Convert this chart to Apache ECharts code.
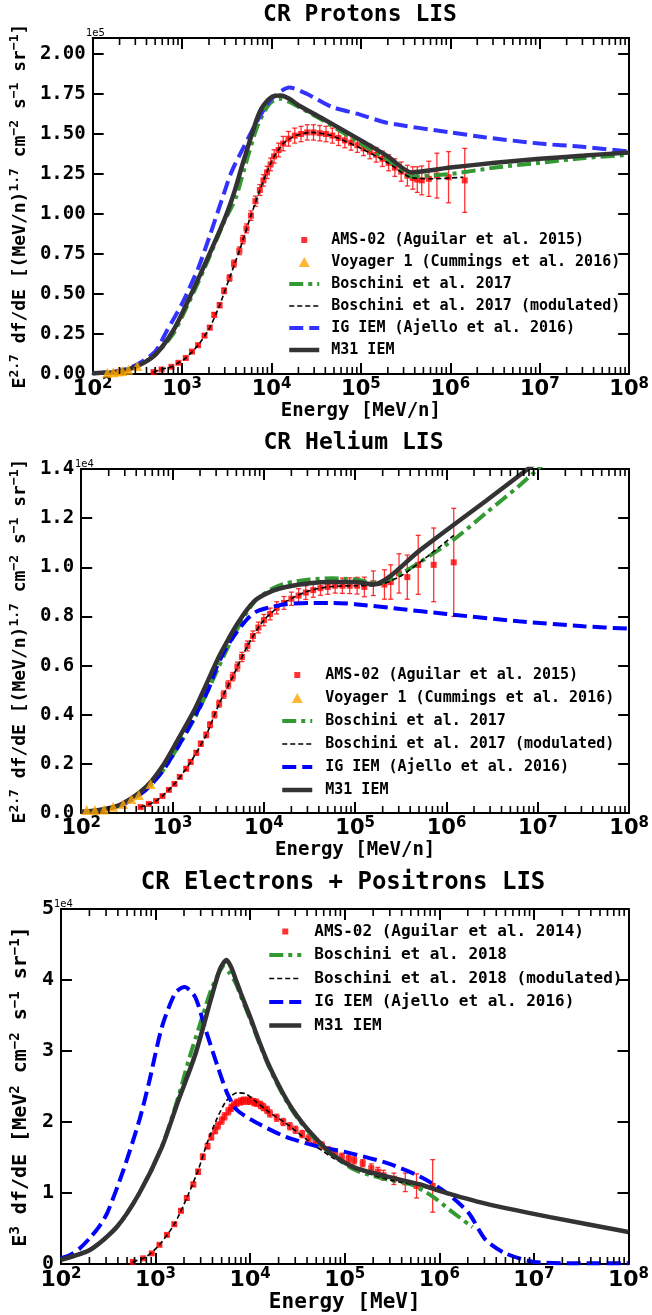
<!DOCTYPE html>
<html>
<head>
<meta charset="utf-8">
<title>CR LIS spectra</title>
<script src="https://cdn.jsdelivr.net/npm/echarts@6/dist/echarts.min.js"></script>
<style>
  html, body { margin: 0; padding: 0; background: #fff; }
  #chart { width: 652px; height: 1315px; }
</style>
</head>
<body>
<div id="chart"></div>
<script>
// ---------- CR protons (y in units of 1e5) ----------
var pAmsE = [480, 590, 760, 910, 1100, 1290, 1510, 1780, 2040, 2290, 2630, 2950, 3390, 3800, 4370, 4790, 5250, 5890, 6610, 7410,
  8130, 8910, 9770, 10700, 12000, 13500, 15500, 18200, 21400, 25100, 29500, 34700, 40700, 47900, 56200, 66100, 77600, 91200, 107000, 126000,
  148000, 174000, 204000, 240000, 282000, 331000, 380000, 427000, 479000, 575000, 708000, 955000, 1450000];
var pAmsF = [0.012, 0.028, 0.045, 0.07, 0.10, 0.14, 0.18, 0.24, 0.29, 0.37, 0.43, 0.52, 0.60, 0.69, 0.77, 0.84, 0.91, 0.99, 1.08, 1.15,
  1.21, 1.26, 1.31, 1.36, 1.40, 1.44, 1.47, 1.49, 1.50, 1.51, 1.51, 1.505, 1.50, 1.49, 1.475, 1.46, 1.445, 1.43, 1.41, 1.39,
  1.37, 1.345, 1.32, 1.29, 1.265, 1.24, 1.225, 1.215, 1.21, 1.22, 1.24, 1.23, 1.21];
var pAmsErr = [0.004, 0.004, 0.005, 0.006, 0.007, 0.008, 0.009, 0.010, 0.012, 0.014, 0.015, 0.018, 0.020, 0.022, 0.024, 0.026, 0.028, 0.030, 0.032, 0.034,
  0.036, 0.038, 0.040, 0.042, 0.043, 0.045, 0.046, 0.047, 0.048, 0.048, 0.048, 0.048, 0.048, 0.047, 0.047, 0.046, 0.046, 0.045, 0.045, 0.045,
  0.046, 0.048, 0.050, 0.055, 0.060, 0.065, 0.070, 0.080, 0.090, 0.110, 0.140, 0.160, 0.200];
var pVoyE = [146, 170, 195, 214, 251, 316];
var pVoyF = [0.008, 0.011, 0.015, 0.018, 0.027, 0.05];
var pBosE = [100, 200, 316, 500, 794, 1150, 1780, 2950, 3980, 5010, 6760, 8320, 10000, 12600, 15800, 20000, 36300, 1e5, 2e5, 3.7e5, 1e6, 3.16e6, 1e7, 3.16e7, 1e8];
var pBosF = [0.005, 0.015, 0.05, 0.12, 0.25, 0.43, 0.66, 0.95, 1.10, 1.29, 1.53, 1.64, 1.70, 1.72, 1.70, 1.67, 1.59, 1.44, 1.34, 1.235, 1.25, 1.29, 1.32, 1.35, 1.37];
var pModE = [480, 600, 760, 910, 1100, 1510, 2040, 2630, 3390, 4370, 5890, 7410, 8710, 10500, 13500, 18600, 28200, 46800, 1e5, 2e5, 3.55e5, 6.3e5, 1e6, 1.4e6];
var pModF = [0.012, 0.03, 0.045, 0.07, 0.10, 0.18, 0.29, 0.43, 0.60, 0.77, 0.99, 1.15, 1.25, 1.35, 1.44, 1.49, 1.51, 1.49, 1.41, 1.32, 1.23, 1.22, 1.225, 1.23];
var pIgE = [100, 200, 316, 500, 676, 1000, 1510, 2000, 2750, 3550, 4900, 7410, 10000, 15800, 25100, 46800, 1e5, 1.95e5, 1e6, 2.4e6, 1e7, 3e7, 1e8];
var pIgF = [0.005, 0.02, 0.06, 0.14, 0.27, 0.44, 0.66, 0.85, 1.08, 1.26, 1.42, 1.61, 1.72, 1.79, 1.75, 1.67, 1.62, 1.57, 1.51, 1.48, 1.44, 1.42, 1.39];
var pM31E = [100, 200, 316, 500, 794, 1150, 1780, 2950, 3800, 4680, 5890, 6920, 7940, 10000, 12600, 15800, 20000, 36300, 1e5, 2e5, 3.7e5, 1e6, 3.16e6, 1e7, 3.16e7, 1e8];
var pM31F = [0.005, 0.015, 0.05, 0.12, 0.27, 0.45, 0.68, 0.96, 1.13, 1.30, 1.48, 1.60, 1.67, 1.73, 1.74, 1.72, 1.68, 1.60, 1.46, 1.36, 1.26, 1.29, 1.32, 1.345, 1.365, 1.385];

// ---------- CR helium (y in units of 1e4) ----------
var hAmsE = [447, 550, 661, 776, 912, 1050, 1200, 1410, 1580, 1820, 2040, 2340, 2570, 2880, 3240, 3630, 4070, 4570, 5130, 5750,
  6610, 7590, 8710, 10000, 11700, 13800, 16600, 20000, 24000, 28800, 34700, 41700, 50100, 60300, 72400, 87100, 105000, 126000, 158000, 209000,
  245000, 302000, 372000, 490000, 724000, 1200000];
var hAmsF = [0.024, 0.037, 0.049, 0.069, 0.094, 0.118, 0.147, 0.18, 0.208, 0.245, 0.282, 0.318, 0.359, 0.40, 0.445, 0.482, 0.522, 0.555, 0.596, 0.635,
  0.68, 0.72, 0.755, 0.785, 0.81, 0.835, 0.855, 0.872, 0.885, 0.897, 0.907, 0.915, 0.92, 0.925, 0.925, 0.925, 0.925, 0.92, 0.935, 0.93,
  0.94, 0.975, 0.96, 1.01, 1.01, 1.02];
var hAmsErr = [0.003, 0.003, 0.004, 0.004, 0.005, 0.005, 0.006, 0.007, 0.008, 0.009, 0.010, 0.011, 0.012, 0.013, 0.014, 0.015, 0.016, 0.017, 0.018, 0.019,
  0.020, 0.021, 0.022, 0.023, 0.024, 0.025, 0.026, 0.027, 0.028, 0.028, 0.029, 0.029, 0.030, 0.030, 0.031, 0.032, 0.034, 0.040, 0.050, 0.060,
  0.070, 0.080, 0.090, 0.120, 0.150, 0.220];
var hVoyE = [115, 141, 178, 224, 288, 355, 427, 575];
var hVoyF = [0.012, 0.012, 0.014, 0.025, 0.037, 0.057, 0.073, 0.118];
var hBosE = [100, 178, 288, 513, 776, 1150, 1740, 2450, 3160, 3980, 5130, 6610, 8320, 12600, 17400, 31600, 56200, 1e5, 1.78e5, 3.39e5, 1.17e6, 2.69e6, 6.17e6, 1e7, 2e7];
var hBosF = [0.004, 0.014, 0.035, 0.095, 0.17, 0.27, 0.385, 0.50, 0.59, 0.67, 0.75, 0.82, 0.87, 0.915, 0.935, 0.95, 0.955, 0.95, 0.935, 0.98, 1.11, 1.22, 1.33, 1.40, 1.50];
var hModE = [447, 661, 1050, 1580, 2340, 3240, 4570, 6610, 10000, 16600, 28800, 50100, 1e5, 1.6e5, 3e5, 6e5, 1.2e6];
var hModF = [0.024, 0.049, 0.118, 0.208, 0.318, 0.445, 0.555, 0.68, 0.785, 0.855, 0.90, 0.92, 0.925, 0.925, 0.96, 1.04, 1.13];
var hIgE = [100, 178, 288, 513, 776, 1150, 1740, 2450, 3090, 3980, 5130, 6610, 8320, 12600, 17400, 31600, 56200, 1e5, 3.16e5, 1e6, 6.17e6, 3.16e7, 1e8];
var hIgF = [0.004, 0.014, 0.035, 0.095, 0.17, 0.27, 0.39, 0.50, 0.60, 0.68, 0.74, 0.79, 0.82, 0.84, 0.85, 0.855, 0.855, 0.85, 0.83, 0.81, 0.78, 0.76, 0.75];
var hM31E = [100, 178, 288, 513, 776, 1150, 1740, 2450, 3160, 3980, 5130, 6610, 8320, 12600, 17400, 31600, 56200, 1e5, 1.58e5, 5.13e5, 1.17e6, 2.69e6, 7.76e6, 1.58e7];
var hM31F = [0.004, 0.015, 0.04, 0.106, 0.19, 0.30, 0.42, 0.54, 0.63, 0.70, 0.77, 0.83, 0.87, 0.905, 0.92, 0.935, 0.94, 0.94, 0.93, 1.07, 1.17, 1.27, 1.40, 1.49];

// ---------- CR electrons + positrons (y in units of 1e4) ----------
var eAmsE = [575, 741, 912, 1100, 1320, 1580, 1860, 2140, 2510, 2820, 3160, 3550, 3890, 4270, 4570, 5010, 5370, 5890, 6310, 6760,
  7240, 7940, 8510, 9330, 10000, 11000, 11700, 12900, 13800, 15100, 16200, 19100, 22400, 26300, 30200, 35500, 41700, 49000, 57500, 67600,
  79400, 93300, 110000, 126000, 155000, 191000, 224000, 257000, 331000, 437000, 575000, 851000];
var eAmsF = [0.03, 0.08, 0.15, 0.27, 0.41, 0.56, 0.75, 0.93, 1.12, 1.30, 1.51, 1.66, 1.79, 1.88, 1.95, 2.02, 2.08, 2.15, 2.20, 2.24,
  2.27, 2.29, 2.30, 2.30, 2.30, 2.28, 2.27, 2.24, 2.21, 2.17, 2.12, 2.06, 2.00, 1.94, 1.89, 1.83, 1.77, 1.72, 1.67, 1.60,
  1.55, 1.51, 1.48, 1.46, 1.42, 1.35, 1.30, 1.25, 1.20, 1.15, 1.10, 1.10];
var eAmsErr = [0.01, 0.01, 0.01, 0.015, 0.02, 0.02, 0.025, 0.03, 0.03, 0.035, 0.04, 0.04, 0.045, 0.045, 0.05, 0.05, 0.05, 0.05, 0.05, 0.05,
  0.05, 0.05, 0.05, 0.05, 0.05, 0.05, 0.05, 0.05, 0.05, 0.05, 0.05, 0.05, 0.05, 0.05, 0.05, 0.05, 0.05, 0.05, 0.05, 0.05,
  0.05, 0.05, 0.05, 0.05, 0.05, 0.06, 0.06, 0.07, 0.08, 0.13, 0.17, 0.37];
var eBosE = [100, 204, 389, 676, 1170, 1740, 2240, 3160, 3980, 5250, 6030, 7080, 7940, 10000, 12600, 15800, 20000, 25100, 31600, 39800, 57500, 126000, 282000, 501000, 832000, 1.38e6, 2.24e6];
var eBosF = [0.06, 0.2, 0.52, 1.0, 1.66, 2.35, 2.87, 3.5, 3.9, 4.18, 4.1, 3.95, 3.78, 3.45, 3.1, 2.78, 2.5, 2.26, 2.06, 1.89, 1.65, 1.33, 1.19, 1.12, 0.96, 0.73, 0.52];
var eModE = [575, 794, 1100, 1580, 2140, 2820, 3550, 4470, 5620, 7240, 8910, 11200, 15800, 24000, 39800, 74100, 126000, 251000, 398000, 631000, 851000];
var eModF = [0.03, 0.1, 0.27, 0.56, 0.93, 1.32, 1.72, 2.05, 2.3, 2.41, 2.4, 2.3, 2.14, 1.98, 1.75, 1.5, 1.35, 1.21, 1.15, 1.11, 1.09];
var eIgE = [100, 126, 158, 200, 251, 309, 457, 676, 851, 1170, 1620, 2040, 2630, 3310, 4570, 5750, 7240, 11700, 24000, 53700, 1e5, 282000, 631000, 1.2e6, 2.04e6, 3.09e6, 5e6, 1e7, 3.16e7, 1e8];
var eIgF = [0.08, 0.13, 0.22, 0.36, 0.52, 0.72, 1.32, 2.03, 2.55, 3.34, 3.82, 3.9, 3.76, 3.34, 2.77, 2.4, 2.17, 1.99, 1.79, 1.65, 1.58, 1.42, 1.23, 1.0, 0.72, 0.34, 0.15, 0.03, 0.01, 0.01];
var eM31E = [100, 204, 389, 676, 1170, 1740, 2630, 3890, 4790, 5620, 6310, 7080, 7940, 10000, 12600, 15800, 20000, 25100, 31600, 39800, 57500, 74100, 126000, 282000, 631000, 1e6, 3.09e6, 1.48e7, 1e8];
var eM31F = [0.06, 0.2, 0.52, 1.0, 1.65, 2.3, 2.95, 3.75, 4.15, 4.28, 4.18, 4.0, 3.82, 3.48, 3.12, 2.8, 2.52, 2.28, 2.08, 1.91, 1.68, 1.54, 1.36, 1.23, 1.12, 1.03, 0.85, 0.66, 0.45];

// axes
var xMin = 100, xMax = 1e8;
var yMaxes = [2.1, 1.4, 5];
var ySteps = [0.25, 0.2, 1];
var yDigits = [2, 1, 0];
var scaleTexts = ['1e5', '1e4', '1e4'];
var titles = ['CR Protons LIS', 'CR Helium LIS', 'CR Electrons + Positrons LIS'];
var xNames = ['Energy [MeV/n]', 'Energy [MeV/n]', 'Energy [MeV]'];
var yNames = [
  '{b|E}{s|2.7}{b| df/dE [(MeV/n)}{s|1.7}{b| cm}{s|\u22122}{b| s}{s|\u22121}{b| sr}{s|\u22121}{b|]}',
  '{b|E}{s|2.7}{b| df/dE [(MeV/n)}{s|1.7}{b| cm}{s|\u22122}{b| s}{s|\u22121}{b| sr}{s|\u22121}{b|]}',
  '{b|E}{s|3}{b| df/dE [MeV}{s|2}{b| cm}{s|\u22122}{b| s}{s|\u22121}{b| sr}{s|\u22121}{b|]}'
];

var MONO = '"DejaVu Sans Mono", monospace';
var SANS = '"DejaVu Sans", sans-serif';

var layout = [
  { left: 85, top: 38, width: 550, height: 336, tick: 19, xTick: 21, name: 18, title: 23, titleX: 360, titleY: 15, yGap: 53, xGap: 27, sx: 86, sy: 33 },
  { left: 74, top: 469, width: 559, height: 344, tick: 19, xTick: 21, name: 18, title: 23, titleX: 353.5, titleY: 443, yGap: 43, xGap: 25, sx: 75, sy: 464 },
  { left: 53, top: 909, width: 580, height: 355, tick: 20, xTick: 22, name: 20, title: 24, titleX: 343, titleY: 883, yGap: 20, xGap: 26, sx: 54, sy: 904 }
];

var minorTicks = [];
for (var k = 2; k < 8; k++) {
  for (var m = 2; m <= 9; m++) minorTicks.push([m * Math.pow(10, k), 0]);
}

function pairs(xs, ys) {
  return xs.map(function (x, i) { return [x, ys[i]]; });
}
function errData(xs, ys, es) {
  return xs.map(function (x, i) { return [x, ys[i] - es[i], ys[i] + es[i]]; });
}
function powLabel(v) {
  return '{b|10}{s|' + Math.round(Math.log(v) / Math.LN10) + '}';
}

var grids = [], xAxes = [], yAxes = [], graphics = [];
layout.forEach(function (L, g) {
  grids.push({ left: L.left, top: L.top, width: L.width, height: L.height, containLabel: false });
  var axLine = { show: true, onZero: false, lineStyle: { color: '#000', width: 2 } };
  var axTick = { show: true, inside: true, length: 11, lineStyle: { color: '#000', width: 2 } };
  xAxes.push({
    type: 'log', logBase: 10, gridIndex: g, min: xMin, max: xMax, position: 'bottom',
    name: xNames[g], nameLocation: 'middle', nameGap: L.xGap,
    nameTextStyle: { fontFamily: MONO, fontWeight: 'bold', fontSize: L.name + 1, color: '#000' },
    axisLine: axLine, axisTick: axTick, splitLine: { show: false },
    axisLabel: {
      margin: 3, formatter: powLabel,
      rich: {
        b: { fontFamily: SANS, fontWeight: 'bold', fontSize: L.xTick, lineHeight: L.xTick + 5, color: '#000' },
        s: { fontFamily: SANS, fontWeight: 'bold', fontSize: Math.round(L.xTick * 0.7), lineHeight: 11, verticalAlign: 'top', color: '#000' }
      }
    }
  });
  xAxes.push({
    type: 'log', logBase: 10, gridIndex: g, min: xMin, max: xMax, position: 'top',
    axisLine: axLine, axisTick: axTick, axisLabel: { show: false }, splitLine: { show: false }
  });
  var d = yDigits[g];
  yAxes.push({
    type: 'value', gridIndex: g, min: 0, max: yMaxes[g], interval: ySteps[g], position: 'left',
    name: yNames[g], nameLocation: 'middle', nameRotate: 90, nameGap: L.yGap,
    nameTextStyle: {
      rich: {
        b: { fontFamily: MONO, fontWeight: 'bold', fontSize: L.name, lineHeight: L.name + 6, color: '#000' },
        s: { fontFamily: MONO, fontWeight: 'bold', fontSize: Math.round(L.name * 0.7), lineHeight: 13, verticalAlign: 'top', color: '#000' }
      }
    },
    axisLine: axLine, axisTick: axTick, splitLine: { show: false },
    axisLabel: {
      margin: 7, fontFamily: MONO, fontWeight: 'bold', fontSize: L.tick, color: '#000',
      showMaxLabel: g === 0 ? false : null,
      formatter: function (v) { return v.toFixed(d); }
    }
  });
  yAxes.push({
    type: 'value', gridIndex: g, min: 0, max: yMaxes[g], interval: ySteps[g], position: 'right',
    axisLine: axLine, axisTick: axTick, axisLabel: { show: false }, splitLine: { show: false }
  });
  graphics.push({
    type: 'text', x: L.titleX, y: L.titleY,
    style: { text: titles[g], font: 'bold ' + L.title + 'px ' + MONO, fill: '#000', align: 'center', verticalAlign: 'middle' }
  });
  graphics.push({
    type: 'text', x: L.sx, y: L.sy,
    style: { text: scaleTexts[g], font: '10px ' + SANS, fill: '#000', align: 'left', verticalAlign: 'middle' }
  });
});

function lineS(name, g, xs, ys, color, width, dash, z) {
  return {
    type: 'line', name: name, xAxisIndex: 2 * g, yAxisIndex: 2 * g, data: pairs(xs, ys),
    symbol: 'none', showSymbol: false, smooth: 0.25, clip: true, z: z,
    lineStyle: { color: color, width: width, type: dash }, itemStyle: { color: color }
  };
}
function pointS(name, g, xs, ys, color, symbol, size, z) {
  return {
    type: 'scatter', name: name, xAxisIndex: 2 * g, yAxisIndex: 2 * g, data: pairs(xs, ys),
    symbol: symbol, symbolSize: size, z: z, itemStyle: { color: color }
  };
}
function errS(g, xs, ys, es, color) {
  return {
    type: 'custom', name: 'err' + g, xAxisIndex: 2 * g, yAxisIndex: 2 * g, data: errData(xs, ys, es),
    encode: { x: 0, y: [1, 2] }, z: 2, silent: true,
    renderItem: function (params, api) {
      var lo = api.coord([api.value(0), api.value(1)]);
      var hi = api.coord([api.value(0), api.value(2)]);
      var st = { stroke: color, lineWidth: 1.3 };
      return {
        type: 'group', children: [
          { type: 'line', shape: { x1: lo[0], y1: lo[1], x2: hi[0], y2: hi[1] }, style: st },
          { type: 'line', shape: { x1: lo[0] - 2.5, y1: lo[1], x2: lo[0] + 2.5, y2: lo[1] }, style: st },
          { type: 'line', shape: { x1: hi[0] - 2.5, y1: hi[1], x2: hi[0] + 2.5, y2: hi[1] }, style: st }
        ]
      };
    }
  };
}
function minorS(g) {
  var yMax = yMaxes[g];
  return {
    type: 'custom', name: 'minor' + g, xAxisIndex: 2 * g, yAxisIndex: 2 * g, data: minorTicks,
    encode: { x: 0, y: 1 }, z: 20, silent: true,
    renderItem: function (params, api) {
      var b = api.coord([api.value(0), 0]);
      var t = api.coord([api.value(0), yMax]);
      var st = { stroke: '#000', lineWidth: 1.6 };
      return {
        type: 'group', children: [
          { type: 'line', shape: { x1: b[0], y1: b[1], x2: b[0], y2: b[1] - 7 }, style: st },
          { type: 'line', shape: { x1: t[0], y1: t[1], x2: t[0], y2: t[1] + 7 }, style: st }
        ]
      };
    }
  };
}

var RED = '#ff0000', ERR = 'rgba(255,0,0,0.8)', ORANGE = '#ffa500', GREEN = '#339933', GREY = '#333333';
var DASHDOT = [14, 5, 4, 5], DASH = [14, 6], FINE = [5, 3];

var series = [
  errS(0, pAmsE, pAmsF, pAmsErr, ERR),
  pointS('AMS-02 (Aguilar et al. 2015)', 0, pAmsE, pAmsF, RED, 'rect', 6, 3),
  pointS('Voyager 1 (Cummings et al. 2016)', 0, pVoyE, pVoyF, ORANGE, 'triangle', 10, 9),
  lineS('Boschini et al. 2017', 0, pBosE, pBosF, GREEN, 4, DASHDOT, 5),
  lineS('Boschini et al. 2017 (modulated)', 0, pModE, pModF, '#000', 1.6, FINE, 6),
  lineS('IG IEM (Ajello et al. 2016)', 0, pIgE, pIgF, '#3333ff', 4, DASH, 7),
  lineS('M31 IEM', 0, pM31E, pM31F, GREY, 4.5, 'solid', 8),
  minorS(0),

  errS(1, hAmsE, hAmsF, hAmsErr, ERR),
  pointS('AMS-02 (Aguilar et al. 2015)', 1, hAmsE, hAmsF, RED, 'rect', 6, 3),
  pointS('Voyager 1 (Cummings et al. 2016)', 1, hVoyE, hVoyF, ORANGE, 'triangle', 10, 9),
  lineS('Boschini et al. 2017', 1, hBosE, hBosF, GREEN, 4, DASHDOT, 5),
  lineS('Boschini et al. 2017 (modulated)', 1, hModE, hModF, '#000', 1.6, FINE, 6),
  lineS('IG IEM (Ajello et al. 2016)', 1, hIgE, hIgF, '#0000ff', 4, DASH, 7),
  lineS('M31 IEM', 1, hM31E, hM31F, GREY, 4.5, 'solid', 8),
  minorS(1),

  errS(2, eAmsE, eAmsF, eAmsErr, ERR),
  pointS('AMS-02 (Aguilar et al. 2014)', 2, eAmsE, eAmsF, RED, 'rect', 6, 3),
  lineS('Boschini et al. 2018', 2, eBosE, eBosF, GREEN, 4, DASHDOT, 5),
  lineS('Boschini et al. 2018 (modulated)', 2, eModE, eModF, '#000', 1.6, FINE, 6),
  lineS('IG IEM (Ajello et al. 2016)', 2, eIgE, eIgF, '#0000ff', 4, DASH, 7),
  lineS('M31 IEM', 2, eM31E, eM31F, GREY, 4.5, 'solid', 8),
  minorS(2)
];

var SQ_ICON = 'path://M0,0M12,12M3,3L9,3L9,9L3,9Z';
var TRI_ICON = 'path://M0,0M12,12M6,1L11.5,11L0.5,11Z';
var hideSym = { opacity: 0 };

function legendFor(left, top, fontSize, lineHeight, gap, itemWidth, pad, items) {
  return {
    orient: 'vertical', left: left, top: top, padding: 0, itemGap: gap,
    itemWidth: itemWidth, itemHeight: 12, selectedMode: false,
    lineStyle: { width: 'inherit' },
    textStyle: { fontFamily: MONO, fontWeight: 'bold', fontSize: fontSize, lineHeight: lineHeight, color: '#000', padding: [0, 0, 0, pad] },
    data: items
  };
}

var legends = [
  legendFor(287, 231, 15, 18, 4, 30, 7, [
    { name: 'AMS-02 (Aguilar et al. 2015)', icon: SQ_ICON },
    { name: 'Voyager 1 (Cummings et al. 2016)', icon: TRI_ICON },
    { name: 'Boschini et al. 2017', itemStyle: hideSym },
    { name: 'Boschini et al. 2017 (modulated)', itemStyle: hideSym },
    { name: 'IG IEM (Ajello et al. 2016)', itemStyle: hideSym },
    { name: 'M31 IEM', itemStyle: hideSym }
  ]),
  legendFor(280, 666, 15, 18, 5, 30, 8, [
    { name: 'AMS-02 (Aguilar et al. 2015)', icon: SQ_ICON },
    { name: 'Voyager 1 (Cummings et al. 2016)', icon: TRI_ICON },
    { name: 'Boschini et al. 2017', itemStyle: hideSym },
    { name: 'Boschini et al. 2017 (modulated)', itemStyle: hideSym },
    { name: 'IG IEM (Ajello et al. 2016)', itemStyle: hideSym, lineStyle: { color: '#0000ff' } },
    { name: 'M31 IEM', itemStyle: hideSym }
  ]),
  legendFor(267, 922, 16, 19, 4.5, 32, 8, [
    { name: 'AMS-02 (Aguilar et al. 2014)', icon: SQ_ICON },
    { name: 'Boschini et al. 2018', itemStyle: hideSym },
    { name: 'Boschini et al. 2018 (modulated)', itemStyle: hideSym },
    { name: 'IG IEM (Ajello et al. 2016)', itemStyle: hideSym, lineStyle: { color: '#0000ff' } },
    { name: 'M31 IEM', itemStyle: hideSym }
  ])
];

var chart = echarts.init(document.getElementById('chart'), null, { renderer: 'canvas' });
chart.setOption({
  backgroundColor: '#fff',
  animation: false,
  grid: grids,
  xAxis: xAxes,
  yAxis: yAxes,
  legend: legends,
  graphic: graphics,
  series: series
});
</script>
</body>
</html>
